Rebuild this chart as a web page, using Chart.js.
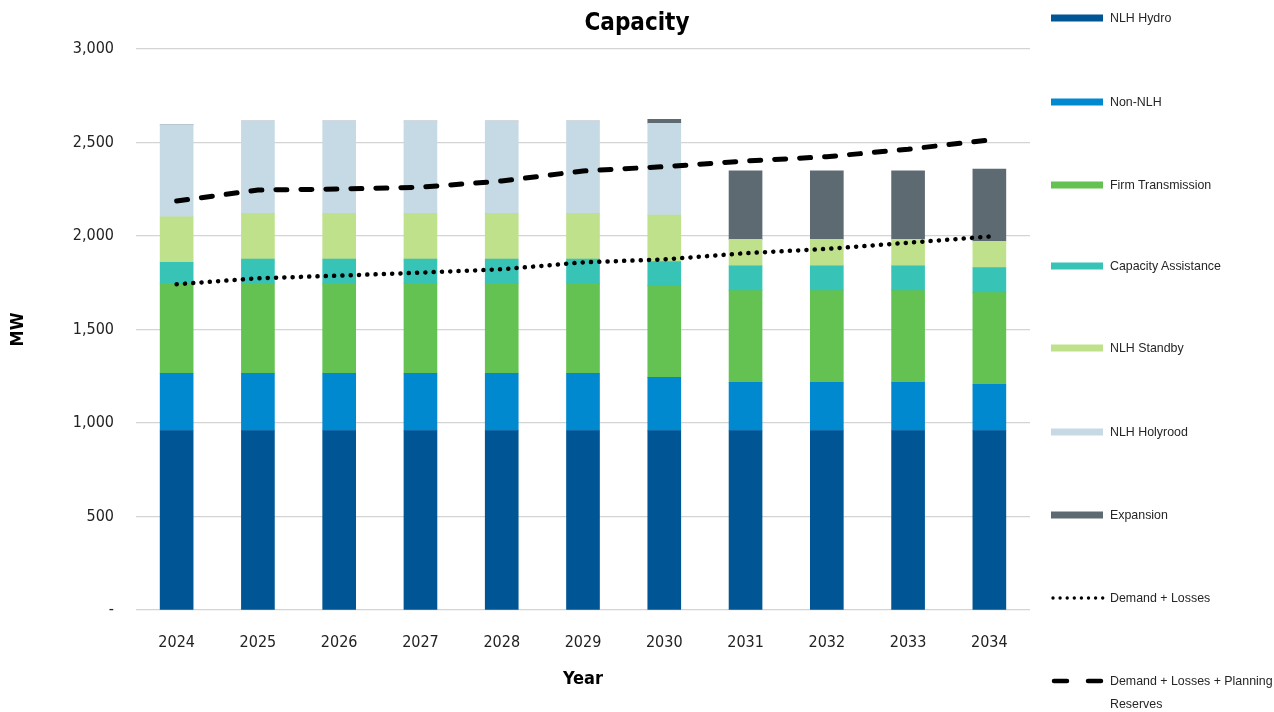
<!DOCTYPE html>
<html>
<head>
<meta charset="utf-8">
<script src="https://cdn.jsdelivr.net/npm/chart.js@4/dist/chart.umd.min.js"></script>
<style>
    body { margin: 0; background: #fff; }
    #wrap { position: relative; width: 1274px; height: 712px; overflow: hidden; }
    #title { position: absolute; left: 0; top: 8px; width: 1274px; text-align: center;
             font: bold 24px 'Liberation Sans Narrow', 'Arial Narrow', 'DejaVu Sans Condensed', sans-serif; color: #000; }
    .lg-sw { position: absolute; left: 1051px; }
    .lg-tx { position: absolute; left: 1110px; width: 166px;
             font: 12.4px 'Liberation Sans', Arial, sans-serif; line-height: 23px; color: #262626; }
</style>
</head>
<body>
<div id="wrap">
    <canvas id="myChart" width="1274" height="712"></canvas>
    <div id="title">Capacity</div>
    <div id="legend"></div>
</div>
<script>
// Data (MW)
const years = ['2024', '2025', '2026', '2027', '2028', '2029', '2030', '2031', '2032', '2033', '2034'];
const nlhHydro = [960, 960, 960, 960, 960, 960, 960, 960, 960, 960, 960];
const nonNlh = [306, 306, 306, 306, 306, 306, 284, 258, 258, 258, 247];
const firmTransmission = [481, 481, 481, 481, 481, 481, 491, 490, 490, 490, 490];
const capacityAssistance = [112, 130, 130, 130, 130, 130, 128, 132, 132, 132, 134];
const nlhStandby = [244, 244, 244, 244, 244, 244, 249, 142, 142, 142, 141];
const nlhHolyrood = [491, 494, 494, 494, 494, 494, 491, 0, 0, 0, 0];
const expansion = [0, 0, 0, 0, 0, 0, 21, 367, 367, 367, 386];
const demandLosses = [1742, 1774, 1788, 1804, 1822, 1859, 1875, 1908, 1931, 1964, 1997];
const demandPlanning = [2187, 2246, 2251, 2261, 2294, 2348, 2371, 2401, 2424, 2464, 2514];
const yTicks = [0, 500, 1000, 1500, 2000, 2500, 3000];

const narrow = "'Liberation Sans Narrow', 'Arial Narrow', 'DejaVu Sans Condensed', sans-serif";

function bar(label, data, color) {
    return { type: 'bar', label: label, data: data, backgroundColor: color, borderWidth: 0, order: 2, stack: 'cap' };
}

const datasets = [
    bar('NLH Hydro', nlhHydro, '#005594'),
    bar('Non-NLH', nonNlh, '#0089cf'),
    bar('Firm Transmission', firmTransmission, '#63c251'),
    bar('Capacity Assistance', capacityAssistance, '#37c4b6'),
    bar('NLH Standby', nlhStandby, '#c0e18b'),
    bar('NLH Holyrood', nlhHolyrood, '#c6dae5'),
    bar('Expansion', expansion, '#5e6a72'),
    {
        type: 'line', label: 'Demand + Losses', data: demandLosses, stack: 'd1', order: 0,
        borderColor: '#000', borderWidth: 4.5, borderDash: [0.1, 8.2], borderCapStyle: 'round',
        pointRadius: 0, fill: false, tension: 0
    },
    {
        type: 'line', label: 'Demand + Losses + Planning Reserves', data: demandPlanning, stack: 'd2', order: 0,
        borderColor: '#000', borderWidth: 5, borderDash: [11, 14], borderCapStyle: 'round',
        pointRadius: 0, fill: false, tension: 0
    }
];

const ctx = document.getElementById('myChart').getContext('2d');
new Chart(ctx, {
    data: { labels: years, datasets: datasets },
    options: {
        responsive: false,
        animation: false,
        devicePixelRatio: 1,
        layout: { padding: { top: 49, right: 244, left: 0, bottom: 0 } },
        plugins: { legend: { display: false }, tooltip: { enabled: false } },
        datasets: { bar: { barThickness: 33 } },
        scales: {
            x: {
                stacked: true,
                grid: { display: false },
                border: { display: false },
                ticks: { color: '#222', font: { family: narrow, size: 16 }, padding: 15 },
                title: { display: true, text: 'Year', color: '#000', font: { family: narrow, size: 18, weight: 'bold' }, padding: { bottom: 22 } },
                afterFit: function(s) { s.height = 102; }
            },
            y: {
                stacked: true,
                min: 0, max: 3000,
                afterBuildTicks: function(s) { s.ticks = yTicks.map(v => ({ value: v })); },
                grid: { color: '#d4d4d4', lineWidth: 1.3, drawTicks: false },
                border: { display: false },
                ticks: {
                    color: '#222', padding: 22, font: { family: narrow, size: 16 },
                    callback: v => v === 0 ? '-' : v.toLocaleString('en-US')
                },
                title: { display: true, text: 'MW', color: '#000', font: { family: narrow, size: 18, weight: 'bold' }, padding: { top: 8 } },
                afterFit: function(s) { s.width = 136; }
            }
        }
    }
});

// legend on the right, built from the datasets
const legendY = [18, 102, 185, 266, 348, 432, 515, 598, 681];
const legend = document.getElementById('legend');
datasets.forEach(function(ds, i) {
    const cy = legendY[i];
    let sw;
    if (ds.type === 'bar') {
        sw = '<svg class="lg-sw" style="top:' + (cy - 4) + 'px" width="52" height="8"><rect x="0" y="0.5" width="52" height="7" fill="' + ds.backgroundColor + '"/></svg>';
    } else if (i === 7) {
        sw = '<svg class="lg-sw" style="top:' + (cy - 4) + 'px" width="54" height="8"><line x1="2" y1="4" x2="52" y2="4" stroke="#000" stroke-width="3.4" stroke-linecap="round" stroke-dasharray="0 7.1"/></svg>';
    } else {
        sw = '<svg class="lg-sw" style="top:' + (cy - 4) + 'px" width="54" height="8"><line x1="3" y1="4" x2="52" y2="4" stroke="#000" stroke-width="4.5" stroke-linecap="round" stroke-dasharray="13 21"/></svg>';
    }
    legend.insertAdjacentHTML('beforeend', sw + '<div class="lg-tx" style="top:' + (cy - 11.5) + 'px">' + ds.label + '</div>');
});
</script>
</body>
</html>
